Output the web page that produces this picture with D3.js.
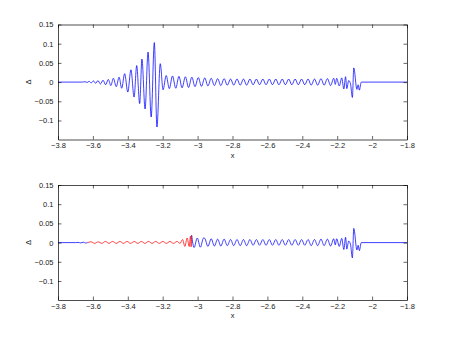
<!DOCTYPE html>
<html>
<head>
<meta charset="utf-8">
<script src="https://cdn.jsdelivr.net/npm/d3@7"></script>
<style>
  body { margin: 0; background: #fff; }
  svg { display: block; }
  .tick text { font-family: "Liberation Sans", Arial, Helvetica, sans-serif; font-size: 7.5px; fill: #1a1a1a; }
  .lbl { font-family: "Liberation Sans", Arial, Helvetica, sans-serif; font-size: 7.5px; fill: #1a1a1a; }
</style>
</head>
<body>
<div id="chart"></div>
<script>
var svgWidth = 450;
var svgHeight = 338;

// tick values
var xTicks = [-3.8, -3.6, -3.4, -3.2, -3, -2.8, -2.6, -2.4, -2.2, -2, -1.8];
var yTicks = [-0.1, -0.05, 0, 0.05, 0.1, 0.15];

var upperLead = [
  [-3.8, 0], [-3.66, 0], [-3.645, 0.001], [-3.633, -0.001], [-3.622, 0.002], [-3.61, -0.002],
  [-3.597, 0.003], [-3.584, -0.003], [-3.571, 0.004], [-3.557, -0.005], [-3.542, 0.005],
  [-3.527, -0.007], [-3.512, 0.007], [-3.497, -0.009], [-3.483, 0.01], [-3.466, -0.012],
  [-3.45, 0.013], [-3.435, -0.016], [-3.418, 0.022], [-3.4, -0.026], [-3.382, 0.032],
  [-3.364, -0.039], [-3.349, 0.043], [-3.332, -0.056], [-3.319, 0.06], [-3.301, -0.07],
  [-3.284, 0.078], [-3.266, -0.091], [-3.248, 0.103], [-3.233, -0.117], [-3.214, 0.048],
  [-3.198, -0.02]
];

// upper panel: ripples after the packet
var upperTrail = [
  [-3.18, 0.017], [-3.162, -0.017], [-3.144, 0.016], [-3.125, -0.016], [-3.107, 0.015],
  [-3.089, -0.015], [-3.07, 0.014], [-3.052, -0.014], [-3.033, 0.013], [-3.015, -0.012],
  [-2.996, 0.012], [-2.978, -0.011], [-2.959, 0.011]
];

// lower panel pieces
var lowerLead = [
  [-3.8, 0], [-3.7, 0], [-3.685, 0.0005], [-3.67, -0.0008], [-3.655, 0.001], [-3.642, -0.001], [-3.63, 0]
];
var lowerRed = [
  [-3.63, 0], [-3.61, 0.002], [-3.59, -0.002], [-3.57, 0.002], [-3.549, -0.002], [-3.528, 0.003],
  [-3.508, -0.002], [-3.487, 0.003], [-3.466, -0.002], [-3.445, 0.003], [-3.425, -0.002],
  [-3.404, 0.003], [-3.384, -0.002], [-3.363, 0.003], [-3.343, -0.002], [-3.322, 0.003],
  [-3.302, -0.002], [-3.281, 0.003], [-3.261, -0.002], [-3.24, 0.003], [-3.22, -0.002],
  [-3.199, 0.003], [-3.179, -0.002], [-3.158, 0.003], [-3.138, -0.002], [-3.118, 0.003],
  [-3.101, -0.002], [-3.086, 0.008], [-3.073, -0.01], [-3.06, 0.012], [-3.048, -0.01],
  [-3.041, 0.017], [-3.037, -0.011], [-3.034, 0.019]
];
var lowerJoin = [
  [-3.034, 0.019], [-3.02, -0.013], [-3.002, 0.012], [-2.984, -0.012], [-2.966, 0.012]
];

// both panels: ripples to the right and the burst near -2.1
var sharedTail = [
  [-2.941, -0.01], [-2.922, 0.01], [-2.904, -0.009], [-2.885, 0.009], [-2.867, -0.009],
  [-2.848, 0.009], [-2.83, -0.008], [-2.811, 0.008], [-2.793, -0.008], [-2.774, 0.008],
  [-2.756, -0.008], [-2.737, 0.008], [-2.719, -0.008], [-2.7, 0.008], [-2.682, -0.007],
  [-2.663, 0.008], [-2.645, -0.007], [-2.626, 0.008], [-2.608, -0.007], [-2.589, 0.008],
  [-2.571, -0.007], [-2.552, 0.008], [-2.534, -0.007], [-2.515, 0.008], [-2.497, -0.007],
  [-2.478, 0.008], [-2.46, -0.007], [-2.441, 0.008], [-2.423, -0.007], [-2.404, 0.008],
  [-2.386, -0.007], [-2.367, 0.008], [-2.349, -0.008], [-2.33, 0.008], [-2.312, -0.008],
  [-2.293, 0.009], [-2.275, -0.008], [-2.256, 0.009], [-2.238, -0.009], [-2.22, 0.01],
  [-2.211, -0.006], [-2.203, 0.01], [-2.188, -0.01], [-2.174, 0.011], [-2.162, -0.018],
  [-2.152, 0.014], [-2.145, -0.017], [-2.134, 0.004], [-2.124, -0.004], [-2.113, -0.04],
  [-2.105, 0.037], [-2.087, -0.019], [-2.08, -0.007], [-2.073, -0.021], [-2.062, 0],
  [-1.8, 0]
];

var margin = { left: 58, right: 43 };
var width = svgWidth - margin.left - margin.right;

var svg = d3.select("#chart")
  .append("svg")
  .attr("width", svgWidth)
  .attr("height", svgHeight);

var xScale = d3.scaleLinear().domain([-3.8, -1.8]).range([0, width]);

function drawPanel(top, bottom, series) {
  var h = bottom - top;
  var yScale = d3.scaleLinear().domain([-0.1495, 0.15]).range([h, 0]);

  var g = svg.append("g")
    .attr("transform", `translate(${margin.left}, ${top})`);

  var line = d3.line()
    .x(d => xScale(d[0]))
    .y(d => yScale(d[1]))
    .curve(d3.curveMonotoneX);

  series.forEach(function(s) {
    g.append("path")
      .datum(s.data)
      .attr("fill", "none")
      .attr("stroke", s.color)
      .attr("stroke-width", 0.75)
      .attr("d", line);
  });

  var fmt = d3.format("");

  // axes with inward ticks, box all round
  g.append("g")
    .attr("transform", `translate(0, ${h})`)
    .call(d3.axisBottom(xScale).tickValues(xTicks).tickFormat(fmt).tickSize(-3.5).tickSizeOuter(0).tickPadding(3.5));
  g.append("g")
    .call(d3.axisTop(xScale).tickValues(xTicks).tickFormat("").tickSize(-3.5).tickSizeOuter(0));
  g.append("g")
    .call(d3.axisLeft(yScale).tickValues(yTicks).tickFormat(fmt).tickSize(-3.5).tickSizeOuter(0).tickPadding(4.5));
  g.append("g")
    .attr("transform", `translate(${width}, 0)`)
    .call(d3.axisRight(yScale).tickValues(yTicks).tickFormat("").tickSize(-3.5).tickSizeOuter(0));

  g.selectAll(".domain").attr("stroke", "#000").attr("stroke-width", 0.7);
  g.selectAll(".tick line").attr("stroke", "#000").attr("stroke-width", 0.6);

  g.append("text")
    .attr("class", "lbl")
    .attr("x", width / 2)
    .attr("y", h + 18)
    .attr("text-anchor", "middle")
    .text("x");

  g.append("text")
    .attr("class", "lbl")
    .attr("transform", `translate(${-30}, ${yScale(0)}) rotate(-90)`)
    .attr("text-anchor", "middle")
    .attr("dy", "0.35em")
    .text("Δ");
}

drawPanel(24.5, 139.5, [
  { data: upperLead.concat(upperTrail, sharedTail), color: "#0000ff" }
]);

drawPanel(185, 300, [
  { data: lowerLead, color: "#0000ff" },
  { data: lowerRed, color: "#ff0000" },
  { data: lowerJoin.concat([[-2.959, 0.011]], sharedTail), color: "#0000ff" }
]);
</script>
</body>
</html>
